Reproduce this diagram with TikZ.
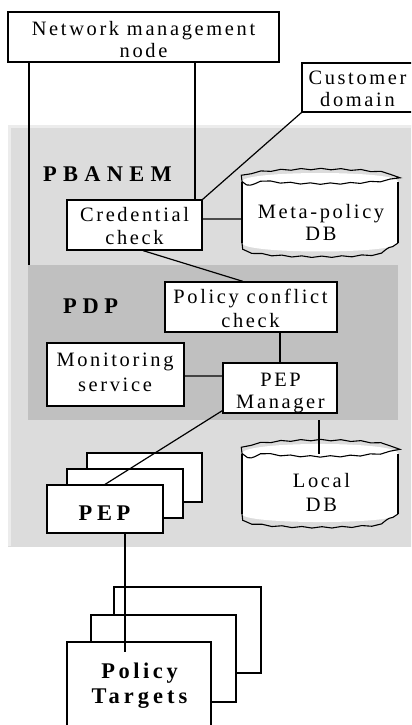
\documentclass[tikz,border=0pt]{standalone}
\usepackage{fontspec}
\setmainfont{Liberation Serif}
\newfontfamily\tfam{Liberation Serif}[LetterSpace=13]
\newfontfamily\bfam{Liberation Serif}[LetterSpace=18]
\usetikzlibrary{calc,decorations.pathmorphing}
\definecolor{outergray}{RGB}{220,220,220}
\definecolor{outeredge}{RGB}{236,236,236}
\definecolor{innergray}{RGB}{192,192,192}
\newcommand\rtext{\tfam\fontsize{20.5}{22}\selectfont}
\newcommand\btext{\bfam\bfseries\fontsize{22.5}{26}\selectfont}
\tikzset{
  box/.style={draw=black, fill=white, line width=1.2bp, inner sep=0pt},
  region/.style={inner sep=0pt, draw=none},
  txt/.style={font=\rtext, align=center, inner sep=0pt},
  btxt/.style={font=\btext, align=center, inner sep=0pt},
  wavy/.style={decorate, decoration={snake, amplitude=0.7bp, segment length=20bp}},
  conn/.style={draw=black, line width=1.2bp}
}
\begin{document}
\begin{tikzpicture}[x=1bp,y=-1bp]
\useasboundingbox (0,0) rectangle (411,725);
\clip (0,0) rectangle (411,725);
\fill[white] (0,0) rectangle (411,725);
% regions
\node[region, fill=outergray, minimum width=412bp, minimum height=422bp] (pbanem) at (214,336) {};
\draw[outeredge, line width=2.5bp] (9.5,546) -- (9.5,126.5) -- (420,126.5);
\node[region, fill=innergray, minimum width=370bp, minimum height=155bp] (pdp) at (213,342.5) {};
\node[btxt, anchor=base west] (pbanemT) at (43,181) {\addfontfeature{LetterSpace=28}PBANEM};
\node[btxt, anchor=base west] (pdpT) at (63,313.3) {\addfontfeature{LetterSpace=25}PDP};
% boxes
\node[box, minimum width=271bp, minimum height=50bp] (nmn) at (143.5,37) {};
\node[box, minimum width=112bp, minimum height=49bp] (cust) at (358,87.5) {};
\node[box, minimum width=135bp, minimum height=50bp] (cred) at (134.5,225) {};
\node[box, minimum width=172bp, minimum height=50bp] (pc) at (251,307) {};
\node[box, minimum width=137bp, minimum height=63bp] (mon) at (115.5,374.5) {};
\node[box, minimum width=114bp, minimum height=50bp] (pepm) at (280,388) {};
\node[box, minimum width=115bp, minimum height=49bp] (pep3) at (144.5,477.5) {};
\node[box, minimum width=116bp, minimum height=49bp] (pep2) at (125,493.5) {};
\node[box, minimum width=116bp, minimum height=48bp] (pep1) at (105,509) {};
\node[box, minimum width=147bp, minimum height=86bp] (pt3) at (187.5,630) {};
\node[box, minimum width=145bp, minimum height=87bp] (pt2) at (163.5,658.5) {};
\node[box, minimum width=144bp, minimum height=88bp] (pt1) at (139,686) {};
% databases
\node[region, minimum width=156bp, minimum height=79bp] (meta) at (320,212.5) {};
\fill[white] (242,181.5) -- (242,243) .. controls (242,254.3) and (398,254.3) .. (398,243) -- (398,181.5) .. controls (398,170.2) and (242,170.2) .. cycle;
\draw[line width=1.2bp] (242,181.5) -- (242,243) (398,181.5) -- (398,243);
\draw[line width=1.1bp, wavy] (242,181.5) .. controls (242,170.2) and (398,170.2) .. (398,181.5) .. controls (398,192.8) and (242,192.8) .. (242,181.5);
\draw[line width=1.1bp, wavy] (242,243) .. controls (242,254.3) and (398,254.3) .. (398,243);
\node[region, minimum width=156bp, minimum height=78bp] (ldb) at (320,483) {};
\fill[white] (242,453.5) -- (242,514) .. controls (242,524.7) and (398,524.7) .. (398,514) -- (398,453.5) .. controls (398,440.8) and (242,440.8) .. cycle;
\draw[line width=1.2bp] (242,453.5) -- (242,514) (398,453.5) -- (398,514);
\draw[line width=1.1bp, wavy] (242,453.5) .. controls (242,440.8) and (398,440.8) .. (398,453.5) .. controls (398,466.2) and (242,466.2) .. (242,453.5);
\draw[line width=1.1bp, wavy] (242,514) .. controls (242,524.7) and (398,524.7) .. (398,514);
% texts
\node[txt] (nmnT) at (143.5,39.4) {Network management\\[-0.4bp]node};
\node[txt] (custT) at (357.5,88.5) {Customer\\[0.4bp]domain};
\node[txt] (credT) at (134.5,226.1) {Credential\\[0.8bp]check};
\node[txt] (metaT) at (321,222.2) {Meta-policy\\[-0.3bp]DB};
\node[txt] (pcT) at (250.5,308.3) {Policy conflict\\[2bp]check};
\node[txt] (monT) at (115,372.2) {Monitoring\\[3bp]service};
\node[txt] (pepmT) at (280.5,393.3) {PEP\\[0.3bp]Manager};
\node[txt] (ldbT) at (321.5,492.7) {Local\\[2bp]DB};
\node[btxt] (pepT) at (104.5,513.1) {\addfontfeature{LetterSpace=21}PEP};
\node[btxt] (ptT) at (139.5,685.7) {\addfontfeature{LetterSpace=16}Policy\\Targets};
% connectors
\coordinate (nmnL) at (29,62);
\coordinate (nmnM) at (195,62);
\coordinate (ldbTop) at (319,453.5);
\coordinate (ptEnd) at (125,652);
\draw[conn] (nmnL) -- (nmnL |- pdp.north);
\draw[conn] (nmnM) -- (nmnM |- cred.north);
\draw[conn] (cust.south west) -- (cred.north east);
\draw[conn] ($(cred.east)+(0,-6)$) -- ($(meta.west)+(0,6.5)$);
\draw[conn] ($(cred.south)+(8.5,0)$) -- ($(pc.north)+(-8,0)$);
\draw[conn] (pepm.north |- pc.south) -- (pepm.north);
\draw[conn] ($(mon.east)+(0,1.5)$) -- ($(pepm.west)+(0,-12)$);
\draw[conn] ($(pepm.south west)+(0,-3)$) -- (pep1.north);
\draw[conn] (ldbTop |- pdp.south) -- (ldbTop);
\draw[conn] (ptEnd |- pep1.south) -- (ptEnd);
\end{tikzpicture}
\end{document}
